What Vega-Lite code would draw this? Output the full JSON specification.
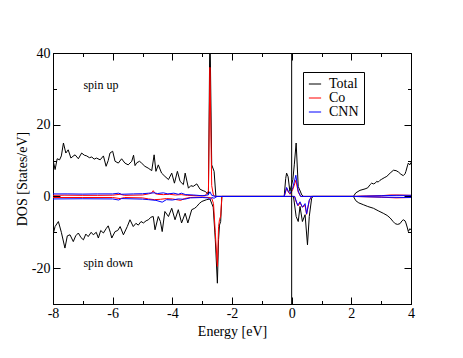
{
  "$schema": "https://vega.github.io/schema/vega-lite/v6.json",
  "width": 358,
  "height": 251,
  "autosize": {"type": "none"},
  "padding": {"left": 53, "top": 53, "right": 52, "bottom": 54},
  "background": "white",
  "config": {
    "view": {"stroke": "black", "strokeWidth": 1},
    "font": "Liberation Serif",
    "axis": {
      "grid": false,
      "domainColor": "black",
      "tickColor": "black",
      "labelColor": "black",
      "titleColor": "black",
      "labelFont": "Liberation Serif",
      "titleFont": "Liberation Serif",
      "labelFontSize": 14,
      "titleFontSize": 14,
      "titleFontWeight": "normal",
      "labelFlush": false,
      "labelOverlap": false
    }
  },
  "datasets": {
    "dos": [
      {"s":"Total","d":"up","E":-8,"v":10.2},{"s":"Total","d":"up","E":-7.93,"v":7.5},{"s":"Total","d":"up","E":-7.86,"v":10.5},{"s":"Total","d":"up","E":-7.78,"v":10.2},{"s":"Total","d":"up","E":-7.72,"v":11.3},{"s":"Total","d":"up","E":-7.65,"v":14.9},{"s":"Total","d":"up","E":-7.57,"v":12.1},{"s":"Total","d":"up","E":-7.49,"v":13},{"s":"Total","d":"up","E":-7.4,"v":10.7},{"s":"Total","d":"up","E":-7.33,"v":11.2},{"s":"Total","d":"up","E":-7.26,"v":11.6},{"s":"Total","d":"up","E":-7.15,"v":10.5},{"s":"Total","d":"up","E":-7.04,"v":12.1},{"s":"Total","d":"up","E":-6.95,"v":11.5},{"s":"Total","d":"up","E":-6.87,"v":11.3},{"s":"Total","d":"up","E":-6.78,"v":10.8},{"s":"Total","d":"up","E":-6.7,"v":11},{"s":"Total","d":"up","E":-6.62,"v":10.4},{"s":"Total","d":"up","E":-6.54,"v":10.7},{"s":"Total","d":"up","E":-6.42,"v":10.2},{"s":"Total","d":"up","E":-6.31,"v":11.3},{"s":"Total","d":"up","E":-6.22,"v":8.4},{"s":"Total","d":"up","E":-6.15,"v":10},{"s":"Total","d":"up","E":-6.09,"v":12.1},{"s":"Total","d":"up","E":-6,"v":12.6},{"s":"Total","d":"up","E":-5.92,"v":9.8},{"s":"Total","d":"up","E":-5.81,"v":9.3},{"s":"Total","d":"up","E":-5.7,"v":10.5},{"s":"Total","d":"up","E":-5.59,"v":9.3},{"s":"Total","d":"up","E":-5.48,"v":8.8},{"s":"Total","d":"up","E":-5.36,"v":9.8},{"s":"Total","d":"up","E":-5.3,"v":11.5},{"s":"Total","d":"up","E":-5.25,"v":8.6},{"s":"Total","d":"up","E":-5.19,"v":9.4},{"s":"Total","d":"up","E":-5.1,"v":9.8},{"s":"Total","d":"up","E":-5.03,"v":9.3},{"s":"Total","d":"up","E":-4.92,"v":8.4},{"s":"Total","d":"up","E":-4.81,"v":7.9},{"s":"Total","d":"up","E":-4.69,"v":7.2},{"s":"Total","d":"up","E":-4.61,"v":11.6},{"s":"Total","d":"up","E":-4.55,"v":7},{"s":"Total","d":"up","E":-4.47,"v":8.8},{"s":"Total","d":"up","E":-4.36,"v":6.5},{"s":"Total","d":"up","E":-4.25,"v":5.6},{"s":"Total","d":"up","E":-4.13,"v":4.7},{"s":"Total","d":"up","E":-4.02,"v":6.5},{"s":"Total","d":"up","E":-3.93,"v":3.7},{"s":"Total","d":"up","E":-3.83,"v":7},{"s":"Total","d":"up","E":-3.74,"v":4.2},{"s":"Total","d":"up","E":-3.63,"v":3.3},{"s":"Total","d":"up","E":-3.57,"v":6.5},{"s":"Total","d":"up","E":-3.46,"v":2.3},{"s":"Total","d":"up","E":-3.38,"v":3},{"s":"Total","d":"up","E":-3.3,"v":2.8},{"s":"Total","d":"up","E":-3.18,"v":3.5},{"s":"Total","d":"up","E":-3.07,"v":2},{"s":"Total","d":"up","E":-2.97,"v":1.6},{"s":"Total","d":"up","E":-2.9,"v":1.4},{"s":"Total","d":"up","E":-2.79,"v":0.5},{"s":"Total","d":"up","E":-2.74,"v":48},{"s":"Total","d":"up","E":-2.68,"v":8.8},{"s":"Total","d":"up","E":-2.6,"v":7},{"s":"Total","d":"up","E":-2.54,"v":0},{"s":"Total","d":"up","E":-0.25,"v":0},{"s":"Total","d":"up","E":-0.2,"v":5},{"s":"Total","d":"up","E":-0.17,"v":6.5},{"s":"Total","d":"up","E":-0.12,"v":5.5},{"s":"Total","d":"up","E":-0.06,"v":1.4},{"s":"Total","d":"up","E":0.04,"v":4.7},{"s":"Total","d":"up","E":0.09,"v":9},{"s":"Total","d":"up","E":0.15,"v":14.9},{"s":"Total","d":"up","E":0.22,"v":2.8},{"s":"Total","d":"up","E":0.34,"v":0.4},{"s":"Total","d":"up","E":0.4,"v":0},{"s":"Total","d":"up","E":2.07,"v":0},{"s":"Total","d":"up","E":2.15,"v":1},{"s":"Total","d":"up","E":2.29,"v":1.7},{"s":"Total","d":"up","E":2.46,"v":2.1},{"s":"Total","d":"up","E":2.55,"v":2.4},{"s":"Total","d":"up","E":2.63,"v":3.3},{"s":"Total","d":"up","E":2.68,"v":3.7},{"s":"Total","d":"up","E":2.74,"v":3.5},{"s":"Total","d":"up","E":2.8,"v":3.7},{"s":"Total","d":"up","E":2.85,"v":4.2},{"s":"Total","d":"up","E":2.9,"v":4},{"s":"Total","d":"up","E":2.96,"v":4.5},{"s":"Total","d":"up","E":3.02,"v":4.8},{"s":"Total","d":"up","E":3.1,"v":5.2},{"s":"Total","d":"up","E":3.19,"v":5.6},{"s":"Total","d":"up","E":3.3,"v":6.5},{"s":"Total","d":"up","E":3.41,"v":7.3},{"s":"Total","d":"up","E":3.5,"v":7.2},{"s":"Total","d":"up","E":3.58,"v":6.8},{"s":"Total","d":"up","E":3.66,"v":6.2},{"s":"Total","d":"up","E":3.74,"v":5.8},{"s":"Total","d":"up","E":3.8,"v":6.3},{"s":"Total","d":"up","E":3.83,"v":7},{"s":"Total","d":"up","E":3.88,"v":8.5},{"s":"Total","d":"up","E":3.91,"v":9.3},{"s":"Total","d":"up","E":3.96,"v":8.8},{"s":"Total","d":"up","E":4,"v":9.5},
      {"s":"Total","d":"down","E":-8,"v":-10.7},{"s":"Total","d":"down","E":-7.93,"v":-8.4},{"s":"Total","d":"down","E":-7.82,"v":-7},{"s":"Total","d":"down","E":-7.72,"v":-10},{"s":"Total","d":"down","E":-7.6,"v":-14.4},{"s":"Total","d":"down","E":-7.52,"v":-11},{"s":"Total","d":"down","E":-7.43,"v":-10.7},{"s":"Total","d":"down","E":-7.32,"v":-12.6},{"s":"Total","d":"down","E":-7.24,"v":-11},{"s":"Total","d":"down","E":-7.15,"v":-10.2},{"s":"Total","d":"down","E":-7.06,"v":-11.5},{"s":"Total","d":"down","E":-6.98,"v":-12.1},{"s":"Total","d":"down","E":-6.9,"v":-10.5},{"s":"Total","d":"down","E":-6.82,"v":-11.2},{"s":"Total","d":"down","E":-6.72,"v":-10},{"s":"Total","d":"down","E":-6.65,"v":-10.7},{"s":"Total","d":"down","E":-6.55,"v":-10},{"s":"Total","d":"down","E":-6.48,"v":-11.6},{"s":"Total","d":"down","E":-6.4,"v":-9.5},{"s":"Total","d":"down","E":-6.31,"v":-10.2},{"s":"Total","d":"down","E":-6.22,"v":-9},{"s":"Total","d":"down","E":-6.15,"v":-8.2},{"s":"Total","d":"down","E":-6.08,"v":-10},{"s":"Total","d":"down","E":-6.03,"v":-11.6},{"s":"Total","d":"down","E":-5.92,"v":-9.8},{"s":"Total","d":"down","E":-5.83,"v":-9.5},{"s":"Total","d":"down","E":-5.75,"v":-8.4},{"s":"Total","d":"down","E":-5.64,"v":-10.7},{"s":"Total","d":"down","E":-5.51,"v":-8.4},{"s":"Total","d":"down","E":-5.42,"v":-6.5},{"s":"Total","d":"down","E":-5.31,"v":-8.4},{"s":"Total","d":"down","E":-5.22,"v":-7.5},{"s":"Total","d":"down","E":-5.14,"v":-8},{"s":"Total","d":"down","E":-5.05,"v":-7},{"s":"Total","d":"down","E":-4.97,"v":-7.4},{"s":"Total","d":"down","E":-4.88,"v":-6.8},{"s":"Total","d":"down","E":-4.8,"v":-6.5},{"s":"Total","d":"down","E":-4.72,"v":-5.8},{"s":"Total","d":"down","E":-4.64,"v":-5.6},{"s":"Total","d":"down","E":-4.58,"v":-9.3},{"s":"Total","d":"down","E":-4.47,"v":-5.6},{"s":"Total","d":"down","E":-4.4,"v":-7},{"s":"Total","d":"down","E":-4.34,"v":-9.8},{"s":"Total","d":"down","E":-4.25,"v":-4.2},{"s":"Total","d":"down","E":-4.13,"v":-5.6},{"s":"Total","d":"down","E":-4.02,"v":-3.3},{"s":"Total","d":"down","E":-3.91,"v":-6.5},{"s":"Total","d":"down","E":-3.8,"v":-3.7},{"s":"Total","d":"down","E":-3.69,"v":-7.4},{"s":"Total","d":"down","E":-3.57,"v":-4.7},{"s":"Total","d":"down","E":-3.48,"v":-7.4},{"s":"Total","d":"down","E":-3.35,"v":-3.7},{"s":"Total","d":"down","E":-3.25,"v":-3.3},{"s":"Total","d":"down","E":-3.18,"v":-2.8},{"s":"Total","d":"down","E":-3.1,"v":-2},{"s":"Total","d":"down","E":-3.01,"v":-1.4},{"s":"Total","d":"down","E":-2.85,"v":-0.9},{"s":"Total","d":"down","E":-2.74,"v":-0.7},{"s":"Total","d":"down","E":-2.63,"v":-3},{"s":"Total","d":"down","E":-2.56,"v":-12},{"s":"Total","d":"down","E":-2.49,"v":-24.2},{"s":"Total","d":"down","E":-2.45,"v":-12},{"s":"Total","d":"down","E":-2.42,"v":-8},{"s":"Total","d":"down","E":-2.38,"v":-7},{"s":"Total","d":"down","E":-2.34,"v":0},{"s":"Total","d":"down","E":0.06,"v":0},{"s":"Total","d":"down","E":0.15,"v":-5.6},{"s":"Total","d":"down","E":0.22,"v":-7},{"s":"Total","d":"down","E":0.28,"v":-2.8},{"s":"Total","d":"down","E":0.36,"v":-7},{"s":"Total","d":"down","E":0.45,"v":-5.1},{"s":"Total","d":"down","E":0.53,"v":-13.5},{"s":"Total","d":"down","E":0.59,"v":-5.6},{"s":"Total","d":"down","E":0.67,"v":-0.5},{"s":"Total","d":"down","E":0.72,"v":0},{"s":"Total","d":"down","E":2.07,"v":0},{"s":"Total","d":"down","E":2.15,"v":-1.2},{"s":"Total","d":"down","E":2.25,"v":-1.8},{"s":"Total","d":"down","E":2.4,"v":-2.3},{"s":"Total","d":"down","E":2.55,"v":-2.8},{"s":"Total","d":"down","E":2.74,"v":-3.3},{"s":"Total","d":"down","E":2.9,"v":-4},{"s":"Total","d":"down","E":3.07,"v":-4.7},{"s":"Total","d":"down","E":3.2,"v":-5.3},{"s":"Total","d":"down","E":3.3,"v":-6},{"s":"Total","d":"down","E":3.4,"v":-7},{"s":"Total","d":"down","E":3.47,"v":-7.6},{"s":"Total","d":"down","E":3.55,"v":-7.8},{"s":"Total","d":"down","E":3.63,"v":-7.6},{"s":"Total","d":"down","E":3.7,"v":-6.8},{"s":"Total","d":"down","E":3.74,"v":-6.5},{"s":"Total","d":"down","E":3.8,"v":-6.8},{"s":"Total","d":"down","E":3.83,"v":-7.4},{"s":"Total","d":"down","E":3.88,"v":-8.8},{"s":"Total","d":"down","E":3.91,"v":-9.8},{"s":"Total","d":"down","E":3.96,"v":-9},{"s":"Total","d":"down","E":4,"v":-9.3},
      {"s":"Co","d":"up","E":-8,"v":0.3},{"s":"Co","d":"up","E":-7.6,"v":0.35},{"s":"Co","d":"up","E":-7,"v":0.3},{"s":"Co","d":"up","E":-6.5,"v":0.3},{"s":"Co","d":"up","E":-6,"v":0.35},{"s":"Co","d":"up","E":-5.75,"v":0.6},{"s":"Co","d":"up","E":-5.6,"v":0.3},{"s":"Co","d":"up","E":-5,"v":0.4},{"s":"Co","d":"up","E":-4.8,"v":0.7},{"s":"Co","d":"up","E":-4.7,"v":0.9},{"s":"Co","d":"up","E":-4.64,"v":1.6},{"s":"Co","d":"up","E":-4.58,"v":0.8},{"s":"Co","d":"up","E":-4.5,"v":0.6},{"s":"Co","d":"up","E":-4.3,"v":0.5},{"s":"Co","d":"up","E":-4.1,"v":0.6},{"s":"Co","d":"up","E":-3.9,"v":0.4},{"s":"Co","d":"up","E":-3.7,"v":0.5},{"s":"Co","d":"up","E":-3.5,"v":0.3},{"s":"Co","d":"up","E":-3.2,"v":0.2},{"s":"Co","d":"up","E":-2.9,"v":0.2},{"s":"Co","d":"up","E":-2.79,"v":1.5},{"s":"Co","d":"up","E":-2.74,"v":36},{"s":"Co","d":"up","E":-2.68,"v":3},{"s":"Co","d":"up","E":-2.62,"v":0.3},{"s":"Co","d":"up","E":-2.56,"v":0},{"s":"Co","d":"up","E":-0.25,"v":0},{"s":"Co","d":"up","E":-0.17,"v":2.3},{"s":"Co","d":"up","E":-0.1,"v":1},{"s":"Co","d":"up","E":-0.05,"v":0.6},{"s":"Co","d":"up","E":0.04,"v":2},{"s":"Co","d":"up","E":0.14,"v":4.5},{"s":"Co","d":"up","E":0.22,"v":1.2},{"s":"Co","d":"up","E":0.3,"v":0},{"s":"Co","d":"up","E":2.07,"v":0},{"s":"Co","d":"up","E":2.3,"v":0.1},{"s":"Co","d":"up","E":3,"v":0.2},{"s":"Co","d":"up","E":3.3,"v":0.4},{"s":"Co","d":"up","E":3.6,"v":0.4},{"s":"Co","d":"up","E":4,"v":0.3},
      {"s":"Co","d":"down","E":-8,"v":-0.3},{"s":"Co","d":"down","E":-7,"v":-0.3},{"s":"Co","d":"down","E":-6,"v":-0.3},{"s":"Co","d":"down","E":-5.75,"v":-0.6},{"s":"Co","d":"down","E":-5.6,"v":-0.3},{"s":"Co","d":"down","E":-5,"v":-0.4},{"s":"Co","d":"down","E":-4.8,"v":-0.7},{"s":"Co","d":"down","E":-4.6,"v":-0.9},{"s":"Co","d":"down","E":-4.4,"v":-0.8},{"s":"Co","d":"down","E":-4.2,"v":-0.6},{"s":"Co","d":"down","E":-4,"v":-0.7},{"s":"Co","d":"down","E":-3.72,"v":-1.1},{"s":"Co","d":"down","E":-3.6,"v":-0.6},{"s":"Co","d":"down","E":-3.4,"v":-0.3},{"s":"Co","d":"down","E":-3,"v":-0.2},{"s":"Co","d":"down","E":-2.74,"v":-0.3},{"s":"Co","d":"down","E":-2.68,"v":-0.5},{"s":"Co","d":"down","E":-2.62,"v":-2},{"s":"Co","d":"down","E":-2.56,"v":-10},{"s":"Co","d":"down","E":-2.49,"v":-19.5},{"s":"Co","d":"down","E":-2.45,"v":-8.4},{"s":"Co","d":"down","E":-2.42,"v":-6.5},{"s":"Co","d":"down","E":-2.38,"v":-5.5},{"s":"Co","d":"down","E":-2.34,"v":0},{"s":"Co","d":"down","E":0.1,"v":0},{"s":"Co","d":"down","E":0.15,"v":-1.5},{"s":"Co","d":"down","E":0.22,"v":-2.6},{"s":"Co","d":"down","E":0.28,"v":-1.8},{"s":"Co","d":"down","E":0.36,"v":-3},{"s":"Co","d":"down","E":0.45,"v":-2.5},{"s":"Co","d":"down","E":0.5,"v":-5},{"s":"Co","d":"down","E":0.59,"v":-1.2},{"s":"Co","d":"down","E":0.67,"v":0},{"s":"Co","d":"down","E":2.07,"v":0},{"s":"Co","d":"down","E":3,"v":-0.2},{"s":"Co","d":"down","E":3.5,"v":-0.4},{"s":"Co","d":"down","E":4,"v":-0.3},
      {"s":"CNN","d":"up","E":-8,"v":0.7},{"s":"CNN","d":"up","E":-7.5,"v":0.7},{"s":"CNN","d":"up","E":-7,"v":0.65},{"s":"CNN","d":"up","E":-6.5,"v":0.7},{"s":"CNN","d":"up","E":-6,"v":0.7},{"s":"CNN","d":"up","E":-5.8,"v":0.9},{"s":"CNN","d":"up","E":-5.7,"v":0.6},{"s":"CNN","d":"up","E":-5.3,"v":0.7},{"s":"CNN","d":"up","E":-5,"v":0.75},{"s":"CNN","d":"up","E":-4.8,"v":0.9},{"s":"CNN","d":"up","E":-4.6,"v":1},{"s":"CNN","d":"up","E":-4.5,"v":0.8},{"s":"CNN","d":"up","E":-4.3,"v":1},{"s":"CNN","d":"up","E":-4.15,"v":0.7},{"s":"CNN","d":"up","E":-3.95,"v":0.9},{"s":"CNN","d":"up","E":-3.8,"v":0.6},{"s":"CNN","d":"up","E":-3.7,"v":0.9},{"s":"CNN","d":"up","E":-3.55,"v":0.5},{"s":"CNN","d":"up","E":-3.3,"v":0.4},{"s":"CNN","d":"up","E":-3,"v":0.2},{"s":"CNN","d":"up","E":-2.8,"v":0.4},{"s":"CNN","d":"up","E":-2.74,"v":1.3},{"s":"CNN","d":"up","E":-2.68,"v":0.3},{"s":"CNN","d":"up","E":-2.6,"v":0.1},{"s":"CNN","d":"up","E":-2.5,"v":0},{"s":"CNN","d":"up","E":-0.25,"v":0},{"s":"CNN","d":"up","E":-0.17,"v":2.5},{"s":"CNN","d":"up","E":-0.1,"v":1.2},{"s":"CNN","d":"up","E":-0.05,"v":0.8},{"s":"CNN","d":"up","E":0.04,"v":2.5},{"s":"CNN","d":"up","E":0.14,"v":5.9},{"s":"CNN","d":"up","E":0.22,"v":1.5},{"s":"CNN","d":"up","E":0.3,"v":0},{"s":"CNN","d":"up","E":2.07,"v":0},{"s":"CNN","d":"up","E":2.5,"v":0.1},{"s":"CNN","d":"up","E":3,"v":0.2},{"s":"CNN","d":"up","E":3.5,"v":0.3},{"s":"CNN","d":"up","E":4,"v":0.3},
      {"s":"CNN","d":"down","E":-8,"v":-0.7},{"s":"CNN","d":"down","E":-7,"v":-0.65},{"s":"CNN","d":"down","E":-6,"v":-0.7},{"s":"CNN","d":"down","E":-5.8,"v":-1},{"s":"CNN","d":"down","E":-5.7,"v":-0.6},{"s":"CNN","d":"down","E":-5,"v":-0.75},{"s":"CNN","d":"down","E":-4.8,"v":-0.9},{"s":"CNN","d":"down","E":-4.55,"v":-1.1},{"s":"CNN","d":"down","E":-4.34,"v":-1.6},{"s":"CNN","d":"down","E":-4.2,"v":-0.9},{"s":"CNN","d":"down","E":-4,"v":-1},{"s":"CNN","d":"down","E":-3.8,"v":-0.7},{"s":"CNN","d":"down","E":-3.6,"v":-0.8},{"s":"CNN","d":"down","E":-3.4,"v":-0.4},{"s":"CNN","d":"down","E":-3,"v":-0.3},{"s":"CNN","d":"down","E":-2.8,"v":-0.4},{"s":"CNN","d":"down","E":-2.74,"v":-0.9},{"s":"CNN","d":"down","E":-2.68,"v":-0.3},{"s":"CNN","d":"down","E":-2.6,"v":-0.5},{"s":"CNN","d":"down","E":-2.5,"v":0},{"s":"CNN","d":"down","E":0.1,"v":0},{"s":"CNN","d":"down","E":0.2,"v":-2.5},{"s":"CNN","d":"down","E":0.28,"v":-1.5},{"s":"CNN","d":"down","E":0.36,"v":-3},{"s":"CNN","d":"down","E":0.45,"v":-2},{"s":"CNN","d":"down","E":0.5,"v":-4.9},{"s":"CNN","d":"down","E":0.59,"v":-1},{"s":"CNN","d":"down","E":0.67,"v":0},{"s":"CNN","d":"down","E":2.07,"v":0},{"s":"CNN","d":"down","E":3,"v":-0.2},{"s":"CNN","d":"down","E":4,"v":-0.3}
    ]
  },
  "layer": [
    {
      "data": {"name": "dos"},
      "transform": [{"filter": "datum.s === 'Total'"}],
      "mark": {"type": "line", "clip": true, "strokeWidth": 1},
      "encoding": {
        "x": {"field": "E", "type": "quantitative", "scale": {"domain": [-8, 4], "nice": false, "zero": false},
          "axis": {"orient": "bottom", "values": [-8,-7,-6,-5,-4,-3,-2,-1,0,1,2,3,4],
            "labelExpr": "datum.value % 2 === 0 ? (datum.value < 0 ? '-' + abs(datum.value) : '' + datum.value) : ''",
            "tickSize": {"condition": {"test": "datum.value % 2 === 0", "value": -7}, "value": -3.5},
            "labelPadding": 9, "title": "Energy [eV]", "titlePadding": 1}},
        "y": {"field": "v", "type": "quantitative", "scale": {"domain": [-30, 40], "nice": false, "zero": false},
          "axis": {"orient": "left", "values": [-30,-20,-10,0,10,20,30,40],
            "labelExpr": "datum.value % 20 === 0 ? (datum.value < 0 ? '-' + abs(datum.value) : '' + datum.value) : ''",
            "tickSize": {"condition": {"test": "datum.value % 20 === 0", "value": -7}, "value": -3.5},
            "labelPadding": 10, "title": "DOS [States/eV]", "titlePadding": 2}},
        "color": {"field": "s", "type": "nominal", "scale": {"domain": ["Total", "Co", "CNN"], "range": ["#000000", "#ff0000", "#0000ff"]},
          "legend": {"orient": "none", "legendX": 250, "legendY": 19, "title": null, "strokeColor": "black", "fillColor": "white", "padding": 5, "symbolType": "stroke", "symbolStrokeWidth": 1, "symbolSize": 150, "labelFont": "Liberation Serif", "labelFontSize": 14, "labelColor": "black", "rowPadding": -3, "labelOffset": 7}},
        "detail": {"field": "d"}
      }
    },
    {
      "data": {"name": "dos"},
      "transform": [{"filter": "datum.s === 'Co'"}],
      "mark": {"type": "line", "clip": true, "strokeWidth": 1},
      "encoding": {
        "x": {"field": "E", "type": "quantitative", "scale": {"domain": [-8, 4], "nice": false, "zero": false},
          "axis": {"orient": "top", "values": [-8,-7,-6,-5,-4,-3,-2,-1,0,1,2,3,4], "labels": false, "title": null,
            "tickSize": {"condition": {"test": "datum.value % 2 === 0", "value": -7}, "value": -3.5}}},
        "y": {"field": "v", "type": "quantitative", "scale": {"domain": [-30, 40], "nice": false, "zero": false},
          "axis": {"orient": "right", "values": [-30,-20,-10,0,10,20,30,40], "labels": false, "title": null,
            "tickSize": {"condition": {"test": "datum.value % 20 === 0", "value": -7}, "value": -3.5}}},
        "color": {"field": "s", "type": "nominal", "scale": {"domain": ["Total", "Co", "CNN"], "range": ["#000000", "#ff0000", "#0000ff"]},
          "legend": {"orient": "none", "legendX": 250, "legendY": 19, "title": null, "strokeColor": "black", "fillColor": "white", "padding": 5, "symbolType": "stroke", "symbolStrokeWidth": 1, "symbolSize": 150, "labelFont": "Liberation Serif", "labelFontSize": 14, "labelColor": "black", "rowPadding": -3, "labelOffset": 7}},
        "detail": {"field": "d"}
      }
    },
    {
      "data": {"name": "dos"},
      "transform": [{"filter": "datum.s === 'CNN'"}],
      "mark": {"type": "line", "clip": true, "strokeWidth": 1},
      "encoding": {
        "x": {"field": "E", "type": "quantitative", "axis": null},
        "y": {"field": "v", "type": "quantitative", "axis": null},
        "color": {"field": "s", "type": "nominal", "scale": {"domain": ["Total", "Co", "CNN"], "range": ["#000000", "#ff0000", "#0000ff"]},
          "legend": {"orient": "none", "legendX": 250, "legendY": 19, "title": null, "strokeColor": "black", "fillColor": "white", "padding": 5, "symbolType": "stroke", "symbolStrokeWidth": 1, "symbolSize": 150, "labelFont": "Liberation Serif", "labelFontSize": 14, "labelColor": "black", "rowPadding": -3, "labelOffset": 7}},
        "detail": {"field": "d"}
      }
    },
    {
      "data": {"values": [{}]},
      "mark": {"type": "rule", "color": "black", "strokeWidth": 1},
      "encoding": {"x": {"datum": 0, "type": "quantitative", "axis": null}}
    },
    {
      "data": {"values": [{}]},
      "mark": {"type": "text", "align": "left", "baseline": "alphabetic", "font": "Liberation Serif", "fontSize": 12, "color": "black"},
      "encoding": {"x": {"datum": -6.98, "type": "quantitative", "axis": null}, "y": {"datum": 30, "type": "quantitative", "axis": null}, "text": {"value": "spin up"}}
    },
    {
      "data": {"values": [{}]},
      "mark": {"type": "text", "align": "left", "baseline": "alphabetic", "font": "Liberation Serif", "fontSize": 12, "color": "black"},
      "encoding": {"x": {"datum": -6.98, "type": "quantitative", "axis": null}, "y": {"datum": -19.7, "type": "quantitative", "axis": null}, "text": {"value": "spin down"}}
    }
  ],
  "resolve": {"axis": {"x": "independent", "y": "independent"}}
}
